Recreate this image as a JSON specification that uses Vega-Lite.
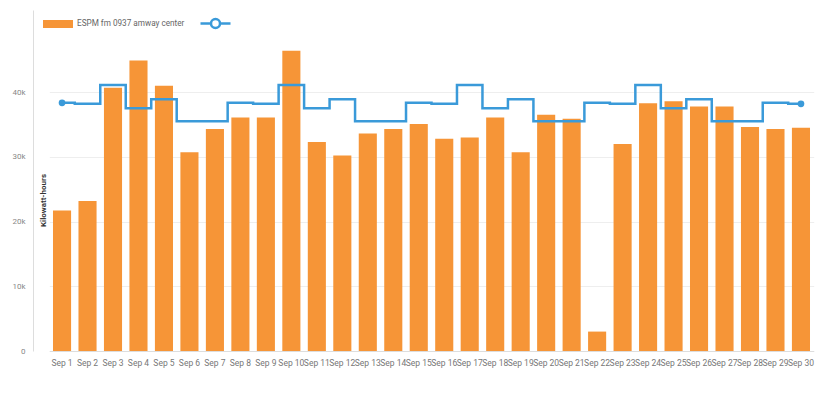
{
  "$schema": "https://vega.github.io/schema/vega-lite/v6.json",
  "autosize": "none",
  "width": 782,
  "height": 341,
  "padding": {"left": 33, "top": 10, "right": 6, "bottom": 58},
  "background": "white",
  "config": {
    "view": {"stroke": null},
    "font": "Roboto",
    "axis": {"labelFont": "Roboto", "titleFont": "Roboto"},
    "legend": {"labelFont": "Roboto"}
  },
  "data": {
    "values": [
      {"day": "Sep 1", "kwh": 21700, "expected": 38350},
      {"day": "Sep 2", "kwh": 23200, "expected": 38200},
      {"day": "Sep 3", "kwh": 40700, "expected": 41100},
      {"day": "Sep 4", "kwh": 44900, "expected": 37500},
      {"day": "Sep 5", "kwh": 41000, "expected": 38900},
      {"day": "Sep 6", "kwh": 30700, "expected": 35500},
      {"day": "Sep 7", "kwh": 34300, "expected": 35500},
      {"day": "Sep 8", "kwh": 36100, "expected": 38350},
      {"day": "Sep 9", "kwh": 36100, "expected": 38200},
      {"day": "Sep 10", "kwh": 46400, "expected": 41100},
      {"day": "Sep 11", "kwh": 32300, "expected": 37500},
      {"day": "Sep 12", "kwh": 30200, "expected": 38900},
      {"day": "Sep 13", "kwh": 33600, "expected": 35500},
      {"day": "Sep 14", "kwh": 34300, "expected": 35500},
      {"day": "Sep 15", "kwh": 35100, "expected": 38350},
      {"day": "Sep 16", "kwh": 32800, "expected": 38200},
      {"day": "Sep 17", "kwh": 33000, "expected": 41100},
      {"day": "Sep 18", "kwh": 36100, "expected": 37500},
      {"day": "Sep 19", "kwh": 30700, "expected": 38900},
      {"day": "Sep 20", "kwh": 36500, "expected": 35500},
      {"day": "Sep 21", "kwh": 35900, "expected": 35500},
      {"day": "Sep 22", "kwh": 3000, "expected": 38350},
      {"day": "Sep 23", "kwh": 32000, "expected": 38200},
      {"day": "Sep 24", "kwh": 38300, "expected": 41100},
      {"day": "Sep 25", "kwh": 38600, "expected": 37500},
      {"day": "Sep 26", "kwh": 37800, "expected": 38900},
      {"day": "Sep 27", "kwh": 37800, "expected": 35500},
      {"day": "Sep 28", "kwh": 34600, "expected": 35500},
      {"day": "Sep 29", "kwh": 34300, "expected": 38350},
      {"day": "Sep 30", "kwh": 34500, "expected": 38200}
    ]
  },
  "encoding": {
    "x": {
      "field": "day",
      "type": "nominal",
      "sort": null,
      "scale": {"paddingInner": 0.29, "paddingOuter": 0.145, "range": [16.3, 780.7]},
      "axis": {
        "title": null,
        "labelAngle": 0,
        "labelOverlap": false,
        "labelFontSize": 8.5,
        "labelColor": "#777777",
        "labelPadding": 7,
        "ticks": false,
        "domainColor": "#dddddd",
        "grid": false
      }
    }
  },
  "layer": [
    {
      "mark": {"type": "bar", "color": "#F69537"},
      "encoding": {
        "y": {
          "field": "kwh",
          "type": "quantitative",
          "scale": {"domain": [0, 52700], "nice": false},
          "axis": {
            "title": "Kilowatt-hours",
            "values": [0, 10000, 20000, 30000, 40000],
            "labelExpr": "datum.value == 0 ? '0' : (datum.value / 1000) + 'k'",
            "labelFontSize": 8,
            "labelColor": "#888888",
            "labelPadding": 8,
            "ticks": false,
            "domainColor": "#dddddd",
            "gridColor": "#eeeeee",
            "titleFontSize": 8,
            "titleFontWeight": "bold",
            "titleColor": "#333333",
            "titleAngle": -90,
            "titleX": 10,
            "titleY": 190,
            "titleAlign": "center",
            "titleBaseline": "middle"
          }
        },
        "fill": {
          "datum": "ESPM fm 0937 amway center",
          "scale": {"range": ["#F69537"]},
          "legend": {
            "title": null,
            "orient": "none",
            "legendX": 15,
            "legendY": 4,
            "symbolType": "M-1.5,-0.4H1.5V0.4H-1.5Z",
            "symbolSize": 400,
            "symbolStrokeWidth": 0,
            "labelFontSize": 8.2,
            "labelColor": "#666666",
            "labelOffset": 9
          }
        }
      }
    },
    {
      "mark": {"type": "line", "interpolate": "step", "strokeWidth": 2.5, "color": "#3A9AD9"},
      "encoding": {
        "y": {"field": "expected", "type": "quantitative"},
        "stroke": {
          "datum": " ",
          "scale": {"range": ["#3A9AD9"]},
          "legend": {
            "title": null,
            "orient": "none",
            "legendX": 171,
            "legendY": 2,
            "symbolType": "M-1.5,0H-0.45M0.45,0H1.5M-0.45,0A0.45,0.45,0,1,1,0.45,0A0.45,0.45,0,1,1,-0.45,0",
            "symbolSize": 400,
            "symbolStrokeWidth": 2.5,
            "symbolFillColor": "white",
            "labelFontSize": 8
          }
        }
      }
    },
    {
      "transform": [{"filter": "datum.day == 'Sep 1' || datum.day == 'Sep 30'"}],
      "mark": {"type": "point", "filled": true, "size": 45, "color": "#3A9AD9", "opacity": 1},
      "encoding": {
        "y": {"field": "expected", "type": "quantitative"}
      }
    }
  ]
}
